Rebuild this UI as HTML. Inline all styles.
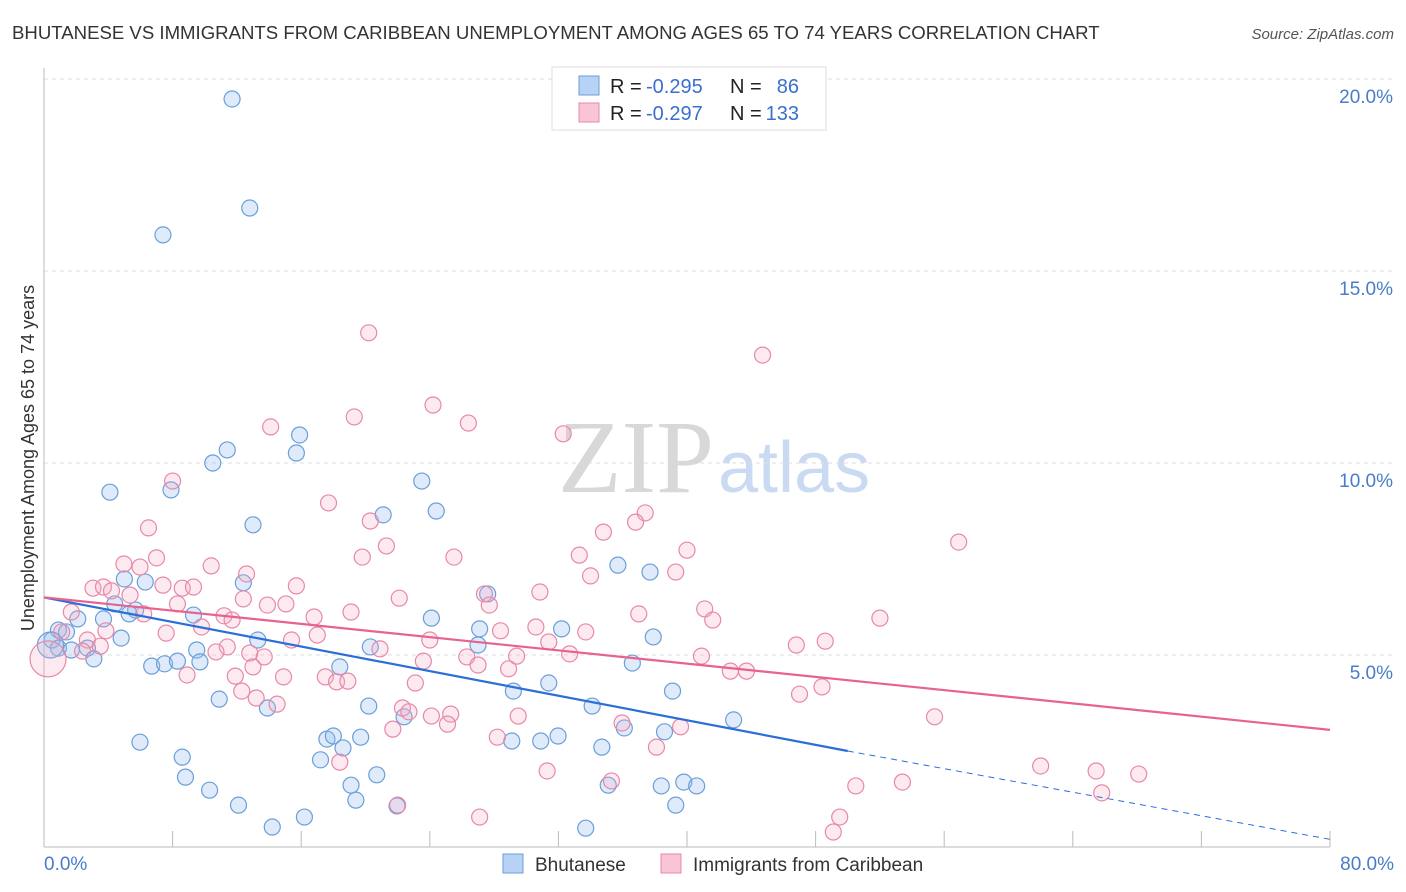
<!DOCTYPE html>
<html><head><meta charset="utf-8"><style>
body{margin:0;background:#fff;font-family:"Liberation Sans",sans-serif}
svg{display:block}
</style></head><body>
<svg id="c" width="1406" height="892" xmlns="http://www.w3.org/2000/svg">
<text x="12" y="39" font-size="18.6" fill="#333">BHUTANESE VS IMMIGRANTS FROM CARIBBEAN UNEMPLOYMENT AMONG AGES 65 TO 74 YEARS CORRELATION CHART</text>
<text x="1394" y="39" font-size="15" fill="#555" font-style="italic" text-anchor="end">Source: ZipAtlas.com</text>
<text x="714" y="492" font-size="104" fill="#d8d8d8" font-family="Liberation Serif,serif" text-anchor="end">ZIP</text>
<text x="718" y="492" font-size="72" fill="#c9daf2">atlas</text>
<text transform="translate(34,458) rotate(-90)" font-size="18" fill="#333" text-anchor="middle">Unemployment Among Ages 65 to 74 years</text>
<g id="grid"></g><g id="pts"></g><g id="lines"></g>
<g font-size="20">
<rect x="552" y="67" width="274" height="63" fill="#fff" stroke="#ddd"/>
<rect x="579" y="76" width="20" height="19" fill="#b8d2f5" stroke="#6a9fd8"/>
<rect x="579" y="103" width="20" height="19" fill="#f9c4d3" stroke="#e888a8"/>
<text x="610" y="93" fill="#222">R =</text><text x="646" y="93" fill="#3a6fcf">-0.295</text>
<text x="730" y="93" fill="#222">N =</text><text x="799" y="93" fill="#3a6fcf" text-anchor="end">86</text>
<text x="610" y="120" fill="#222">R =</text><text x="646" y="120" fill="#3a6fcf">-0.297</text>
<text x="730" y="120" fill="#222">N =</text><text x="799" y="120" fill="#3a6fcf" text-anchor="end">133</text>
</g>
<g>
<rect x="503" y="854" width="20" height="19" fill="#b8d2f5" stroke="#6a9fd8"/>
<text x="535" y="871" font-size="19" fill="#333">Bhutanese</text>
<rect x="661" y="854" width="20" height="19" fill="#f9c4d3" stroke="#e888a8"/>
<text x="693" y="871" font-size="19" fill="#333">Immigrants from Caribbean</text>
</g>
</svg>
<script>
const yTicks=[5,10,15,20];
const xTickLabels=["0.0%","80.0%"];
const blueX=[11.7,12.8,7.4,11.4,15.9,15.7,10.5,4.1,7.9,23.5,24.4,21.1,13.0,35.7,37.7,12.4,5.0,6.3,27.6,4.4,5.7,5.3,3.7,2.1,9.3,24.1,27.1,32.2,4.8,37.9,13.3,0.9,1.4,0.5,0.9,1.7,2.7,3.1,27.0,20.3,9.5,9.7,6.7,7.5,8.3,18.4,36.6,29.2,31.4,39.1,10.9,13.9,20.2,22.4,34.1,42.9,36.1,38.6,5.97,17.6,18.0,19.7,18.6,29.1,30.9,31.98,34.7,8.6,17.2,8.8,20.7,10.3,19.1,35.1,38.4,39.8,40.6,12.1,19.4,21.96,39.3,14.2,16.2,33.7,0.4];
const blueY=[19.48,16.64,15.94,10.34,10.73,10.26,10.0,9.24,9.30,9.53,8.75,8.65,8.39,7.34,7.16,6.88,6.98,6.90,6.59,6.33,6.17,6.07,5.94,5.94,6.04,5.96,5.68,5.68,5.44,5.47,5.39,5.65,5.60,5.39,5.18,5.13,5.18,4.90,5.26,5.21,5.13,4.82,4.71,4.77,4.84,4.69,4.79,4.06,4.27,4.06,3.85,3.62,3.67,3.39,3.67,3.31,3.10,3.00,2.73,2.81,2.89,2.86,2.58,2.76,2.76,2.89,2.60,2.34,2.27,1.82,1.88,1.48,1.61,1.61,1.59,1.69,1.59,1.09,1.22,1.07,1.09,0.52,0.78,0.49,5.26];
const pinkX=[20.2,44.7,24.2,19.3,14.1,26.4,32.3,8.0,17.7,37.4,20.3,36.8,6.5,34.8,56.9,21.3,40.0,7.0,19.8,25.5,33.3,4.97,5.97,10.4,12.6,39.3,34.0,3.05,3.7,4.2,7.4,8.6,9.3,15.7,5.35,12.4,22.1,27.4,30.85,8.3,13.9,15.05,27.7,41.1,1.7,19.1,37.0,52.0,41.6,6.2,11.2,11.7,16.8,30.6,9.8,17.0,28.4,33.7,1.1,3.85,7.6,2.7,15.4,24.0,46.8,48.6,31.4,11.4,10.7,12.8,20.9,2.4,29.4,32.7,26.3,40.9,13.7,23.6,27.0,28.9,13.0,42.7,43.7,8.9,11.9,17.5,14.9,18.2,18.9,23.1,48.4,12.3,47.0,13.2,14.5,22.3,22.7,25.3,24.1,29.5,55.4,25.1,35.96,39.6,21.7,28.2,38.1,18.4,62.0,65.45,68.1,31.3,35.3,53.4,50.5,65.8,22.0,49.5,27.1,49.1,3.5,0.25];
const pinkY=[13.39,12.81,11.51,11.2,10.94,11.04,10.76,9.53,8.96,8.7,8.49,8.46,8.31,8.2,7.94,7.84,7.73,7.53,7.55,7.55,7.6,7.37,7.29,7.32,7.11,7.16,7.06,6.74,6.77,6.67,6.82,6.74,6.77,6.8,6.56,6.46,6.48,6.59,6.64,6.33,6.3,6.33,6.3,6.2,6.12,6.12,6.07,5.96,5.91,6.07,6.02,5.91,5.99,5.73,5.73,5.52,5.63,5.6,5.6,5.63,5.57,5.39,5.39,5.39,5.26,5.36,5.34,5.21,5.08,5.05,5.16,5.1,4.97,5.03,4.95,4.97,4.95,4.84,4.74,4.64,4.69,4.58,4.58,4.48,4.45,4.43,4.43,4.3,4.32,4.27,4.17,4.06,3.98,3.88,3.72,3.62,3.52,3.46,3.41,3.41,3.39,3.2,3.23,3.13,3.07,2.86,2.6,2.21,2.11,1.98,1.9,1.98,1.72,1.69,1.59,1.41,1.09,0.78,0.78,0.39,5.23,4.9];
const blueTrend=[6.5,2.5,50,0.2];
const pinkTrend=[6.5,3.05];

const NS="http://www.w3.org/2000/svg";
const X=v=>44+v*16.075, Y=v=>847-v*38.4;
function mk(tag,a,p){const e=document.createElementNS(NS,tag);for(const k in a)e.setAttribute(k,a[k]);p.appendChild(e);return e;}
const grid=document.getElementById('grid');
yTicks.forEach(t=>{
  const l=mk('line',{x1:44,x2:1395,y1:Y(t),y2:Y(t),stroke:'#ddd','stroke-dasharray':'4,4'},grid);
  
  
  const tx=mk('text',{x:1393,y:Y(t)+24,'font-size':19,fill:'#4a7cc9','text-anchor':'end'},grid);
  tx.textContent=t.toFixed(1)+'%';
  
  
});
const ax=mk('line',{x1:44,x2:1330,y1:847,y2:847,stroke:'#bbb'},grid);


const ay=mk('line',{x1:44,x2:44,y1:68,y2:847,stroke:'#bbb'},grid);


for(let i=0;i<=10;i++){const t=mk('line',{x1:X(i*8),x2:X(i*8),y1:831,y2:847,stroke:'#bbb'},grid);
  
  }
[[0,xTickLabels[0],'start',44],[80,xTickLabels[1],'end',1394]].forEach(d=>{
  const t=mk('text',{x:d[3],y:870,'font-size':19,fill:'#4a7cc9','text-anchor':d[2]},grid);t.textContent=d[1];
  
  });
const pts=document.getElementById('pts');
blueX.forEach((v,i)=>{const big=i==blueX.length-1;
  const c=mk('circle',{cx:X(v),cy:Y(blueY[i]),r:big?13:8,fill:'rgba(150,190,240,0.3)',stroke:'#6a9fd8','stroke-width':1.2},pts);
  
  });
pinkX.forEach((v,i)=>{const big=i==pinkX.length-1;
  const c=mk('circle',{cx:X(v),cy:Y(pinkY[i]),r:big?18:8,fill:'rgba(245,170,195,0.25)',stroke:'#e888a8','stroke-width':1.2},pts);
  
  });
const lines=document.getElementById('lines');
const by=x=>blueTrend[0]+(blueTrend[1]-blueTrend[0])*x/50;
const b1=mk('line',{x1:X(0),y1:Y(blueTrend[0]),x2:X(blueTrend[2]),y2:Y(by(blueTrend[2])),stroke:'#2b6fd6','stroke-width':2.2},lines);


const b2=mk('line',{x1:X(blueTrend[2]),y1:Y(by(blueTrend[2])),x2:X(80),y2:Y(blueTrend[3]),stroke:'#2b6fd6','stroke-width':1,'stroke-dasharray':'6,5'},lines);


const p1=mk('line',{x1:X(0),y1:Y(pinkTrend[0]),x2:X(80),y2:Y(pinkTrend[1]),stroke:'#e8628f','stroke-width':2.2},lines);


</script>
</body></html>
